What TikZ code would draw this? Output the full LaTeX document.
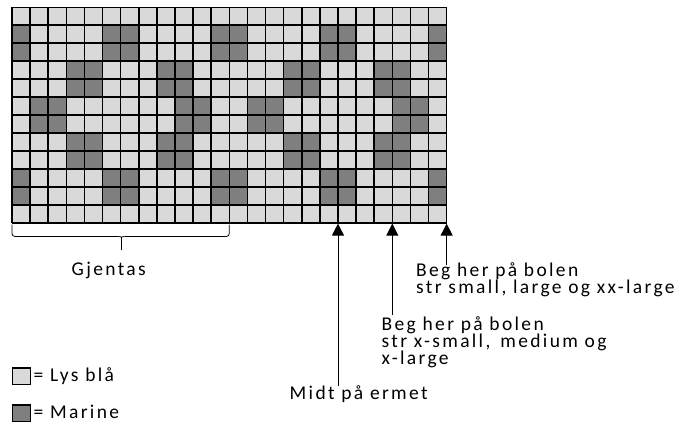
\documentclass[tikz,border=0pt]{standalone}
\usepackage{fontspec}
\setmainfont{Carlito}[LetterSpace=12]
\usetikzlibrary{arrows.meta}
\definecolor{lysbla}{HTML}{D9D9D9}
\definecolor{marine}{HTML}{7F7F7F}
\tikzset{
  gridline/.style={draw=black, line width=1.6pt},
  brace/.style={draw=black, line width=0.8pt},
  pointer/.style={draw=black, line width=0.9pt, -{Triangle[length=12pt,width=12pt]}},
  lbl/.style={inner sep=0pt, anchor=base west, font=\fontsize{19.5}{17}\selectfont},
  legbox/.style={draw=black, line width=1.5pt, minimum width=18pt, minimum height=16.5pt, inner sep=0pt}
}
\begin{document}
\begin{tikzpicture}[x=1pt,y=-1pt]
\useasboundingbox[fill=white] (0,0) rectangle (687,424);
\def\cw{18.11}
\def\ch{17.95}
\def\gx{12}
\def\gy{7.3}
% background of the chart
\fill[lysbla] (\gx,\gy) rectangle (\gx+24*\cw,\gy+12*\ch);
% dark stitches, row by row
\foreach \r/\cols in {
  1/{0,5,6,11,12,17,18,23},
  2/{0,5,6,11,12,17,18,23},
  3/{3,4,8,9,15,16,20,21},
  4/{3,4,8,9,15,16,20,21},
  5/{1,2,9,10,13,14,21,22},
  6/{1,2,9,10,13,14,21,22},
  7/{3,4,8,9,15,16,20,21},
  8/{3,4,8,9,15,16,20,21},
  9/{0,5,6,11,12,17,18,23},
  10/{0,5,6,11,12,17,18,23}} {
  \foreach \c in \cols {
    \fill[marine] (\gx+\c*\cw,\gy+\r*\ch) rectangle (\gx+\c*\cw+\cw,\gy+\r*\ch+\ch);
  }
}
% grid lines
\foreach \c in {0,...,24} {
  \draw[gridline] (\gx+\c*\cw,\gy) -- (\gx+\c*\cw,\gy+12*\ch);
}
\foreach \r in {0,...,12} {
  \draw[gridline] (\gx,\gy+\r*\ch) -- (\gx+24*\cw,\gy+\r*\ch);
}

% repeat brace under the first twelve columns
\coordinate (bl) at (\gx,224.5);
\coordinate (br) at (\gx+12*\cw,224.5);
\coordinate (bt) at (121.5,250);
\draw[brace, rounded corners=3pt] (bl) |- (118.5,236.5);
\draw[brace, rounded corners=3pt] (br) |- (124.5,236.5);
\draw[brace] (118.5,236.5) .. controls (121.5,236.5) .. (121.5,240) -- (bt);
\draw[brace] (124.5,236.5) .. controls (121.5,236.5) .. (121.5,240);
\node[lbl] (gjentas) at (71.5,275.5) {Gjentas};

% targets on the lower edge of the chart
\coordinate (t18) at (\gx+18*\cw,223.6);
\coordinate (t21) at (\gx+21*\cw,223.6);
\coordinate (t24) at (\gx+24*\cw,223.6);
\coordinate (s18) at (\gx+18*\cw,386);
\coordinate (s21) at (\gx+21*\cw,315);
\coordinate (s24) at (\gx+24*\cw,264.5);
\draw[pointer] (s18) -- (t18);
\draw[pointer] (s21) -- (t21);
\draw[pointer] (s24) -- (t24);

% labels
\node[lbl] (b3a) at (416,276) {Beg her på bolen};
\node[lbl] (b3b) at (416,293.5) {str small, large og xx-large};
\node[lbl] (b2a) at (381.5,330) {Beg her på bolen};
\node[lbl] (b2b) at (381.5,347.5) {str x-small,\, medium og};
\node[lbl] (b2c) at (381.5,364.5) {x-large};
\node[lbl] (midt) at (289.5,399) {Midt på ermet};

% legend
\node[legbox, fill=lysbla] (key1) at (21.5,376.3) {};
\node[lbl] (key1t) at (33.5,381.7) {= Lys blå};
\node[legbox, fill=marine] (key2) at (21.5,413) {};
\node[lbl] (key2t) at (33.5,418.3) {= Marine};
\end{tikzpicture}
\end{document}
